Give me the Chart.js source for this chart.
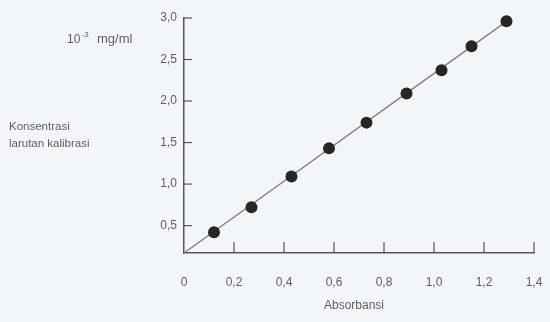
<!DOCTYPE html>
<html>
<head>
<meta charset="utf-8">
<script src="https://cdn.jsdelivr.net/npm/chart.js"></script>
<style>
  html, body { margin: 0; padding: 0; background: #f3f6f9; }
</style>
</head>
<body>
<canvas id="line-chart" width="550" height="322"></canvas>
<script>
Chart.defaults.color = '#5e5e5e';
Chart.defaults.font.family = '"Liberation Sans", Arial, sans-serif';

// Datos (absorbansi vs konsentrasi, 10^-3 mg/ml)
const absorbansi = [0.12, 0.27, 0.43, 0.58, 0.73, 0.89, 1.03, 1.15, 1.29];
const konsentrasi = [0.42, 0.72, 1.09, 1.43, 1.74, 2.09, 2.37, 2.66, 2.96];

// Recta de calibracion, desde la esquina de los ejes hasta el ultimo punto
const lineX = [0, 1.29];
const lineY = [0.17, 2.96];

const xTicks = [0, 0.2, 0.4, 0.6, 0.8, 1.0, 1.2, 1.4];
const yTicks = [0.5, 1.0, 1.5, 2.0, 2.5, 3.0];

const axisColor = '#555555';
const fuente = '"Liberation Sans", Arial, sans-serif';

// numeros con coma decimal
function coma(v) {
    return v === 0 ? '0' : v.toFixed(1).replace('.', ',');
}

// Marcas hacia adentro y textos sueltos alrededor de los ejes
const extras = {
    id: 'extras',
    afterDraw(chart) {
        const ctx = chart.ctx;
        const x = chart.scales.x;
        const y = chart.scales.y;
        ctx.save();
        ctx.strokeStyle = axisColor;
        ctx.lineWidth = 1.2;
        yTicks.forEach(v => {
            const py = y.getPixelForValue(v);
            ctx.beginPath();
            ctx.moveTo(x.left, py);
            ctx.lineTo(x.left + 8, py);
            ctx.stroke();
        });
        xTicks.slice(1).forEach(v => {
            const px = x.getPixelForValue(v);
            ctx.beginPath();
            ctx.moveTo(px, y.bottom);
            ctx.lineTo(px, y.bottom - 11);
            ctx.stroke();
        });

        ctx.fillStyle = '#5e5e5e';
        ctx.textBaseline = 'alphabetic';
        ctx.font = '11.5px ' + fuente;
        ctx.fillText('Konsentrasi', 9, 130);
        ctx.fillText('larutan kalibrasi', 9, 147);

        ctx.textAlign = 'center';
        ctx.font = '12px ' + fuente;
        ctx.fillText('Absorbansi', 354, 309);

        ctx.textAlign = 'left';
        ctx.font = '12px ' + fuente;
        ctx.fillText('10', 67, 43);
        ctx.font = '7.5px ' + fuente;
        ctx.fillText('-3', 82, 37);
        ctx.font = '13px ' + fuente;
        ctx.fillText('mg/ml', 97, 43);
        ctx.restore();
    }
};

new Chart(document.getElementById('line-chart'), {
    type: 'scatter',
    data: {
        datasets: [
            {
                label: 'Titik',
                data: absorbansi.map((a, i) => ({ x: a, y: konsentrasi[i] })),
                pointRadius: 6,
                pointBackgroundColor: '#262626',
                pointBorderWidth: 0,
                showLine: false,
                clip: false
            },
            {
                label: 'Garis',
                data: lineX.map((a, i) => ({ x: a, y: lineY[i] })),
                showLine: true,
                borderColor: '#7f7f7f',
                borderWidth: 1.4,
                pointRadius: 0,
                clip: false
            }
        ]
    },
    options: {
        responsive: false,
        animation: false,
        devicePixelRatio: 1,
        layout: {
            padding: { top: 18, right: 16, left: 0, bottom: 0 }
        },
        plugins: {
            legend: { display: false },
            tooltip: { enabled: false }
        },
        scales: {
            x: {
                type: 'linear',
                min: 0,
                max: 1.4,
                afterBuildTicks: s => { s.ticks = xTicks.map(v => ({ value: v })); },
                afterFit: s => { s.height = 69; },
                grid: { display: false, drawTicks: true, tickLength: 19 },
                border: { color: axisColor, width: 1.5 },
                ticks: {
                    callback: v => coma(v),
                    padding: 3,
                    maxRotation: 0,
                    font: { size: 12 }
                }
            },
            y: {
                type: 'linear',
                min: 0.17,
                max: 3.0,
                afterBuildTicks: s => { s.ticks = yTicks.map(v => ({ value: v })); },
                afterFit: s => { s.width = 184; },
                grid: { display: false, drawTicks: false },
                border: { color: axisColor, width: 1.5 },
                ticks: {
                    callback: v => coma(v),
                    padding: 7,
                    font: { size: 12 }
                }
            }
        }
    },
    plugins: [extras]
});
</script>
</body>
</html>
